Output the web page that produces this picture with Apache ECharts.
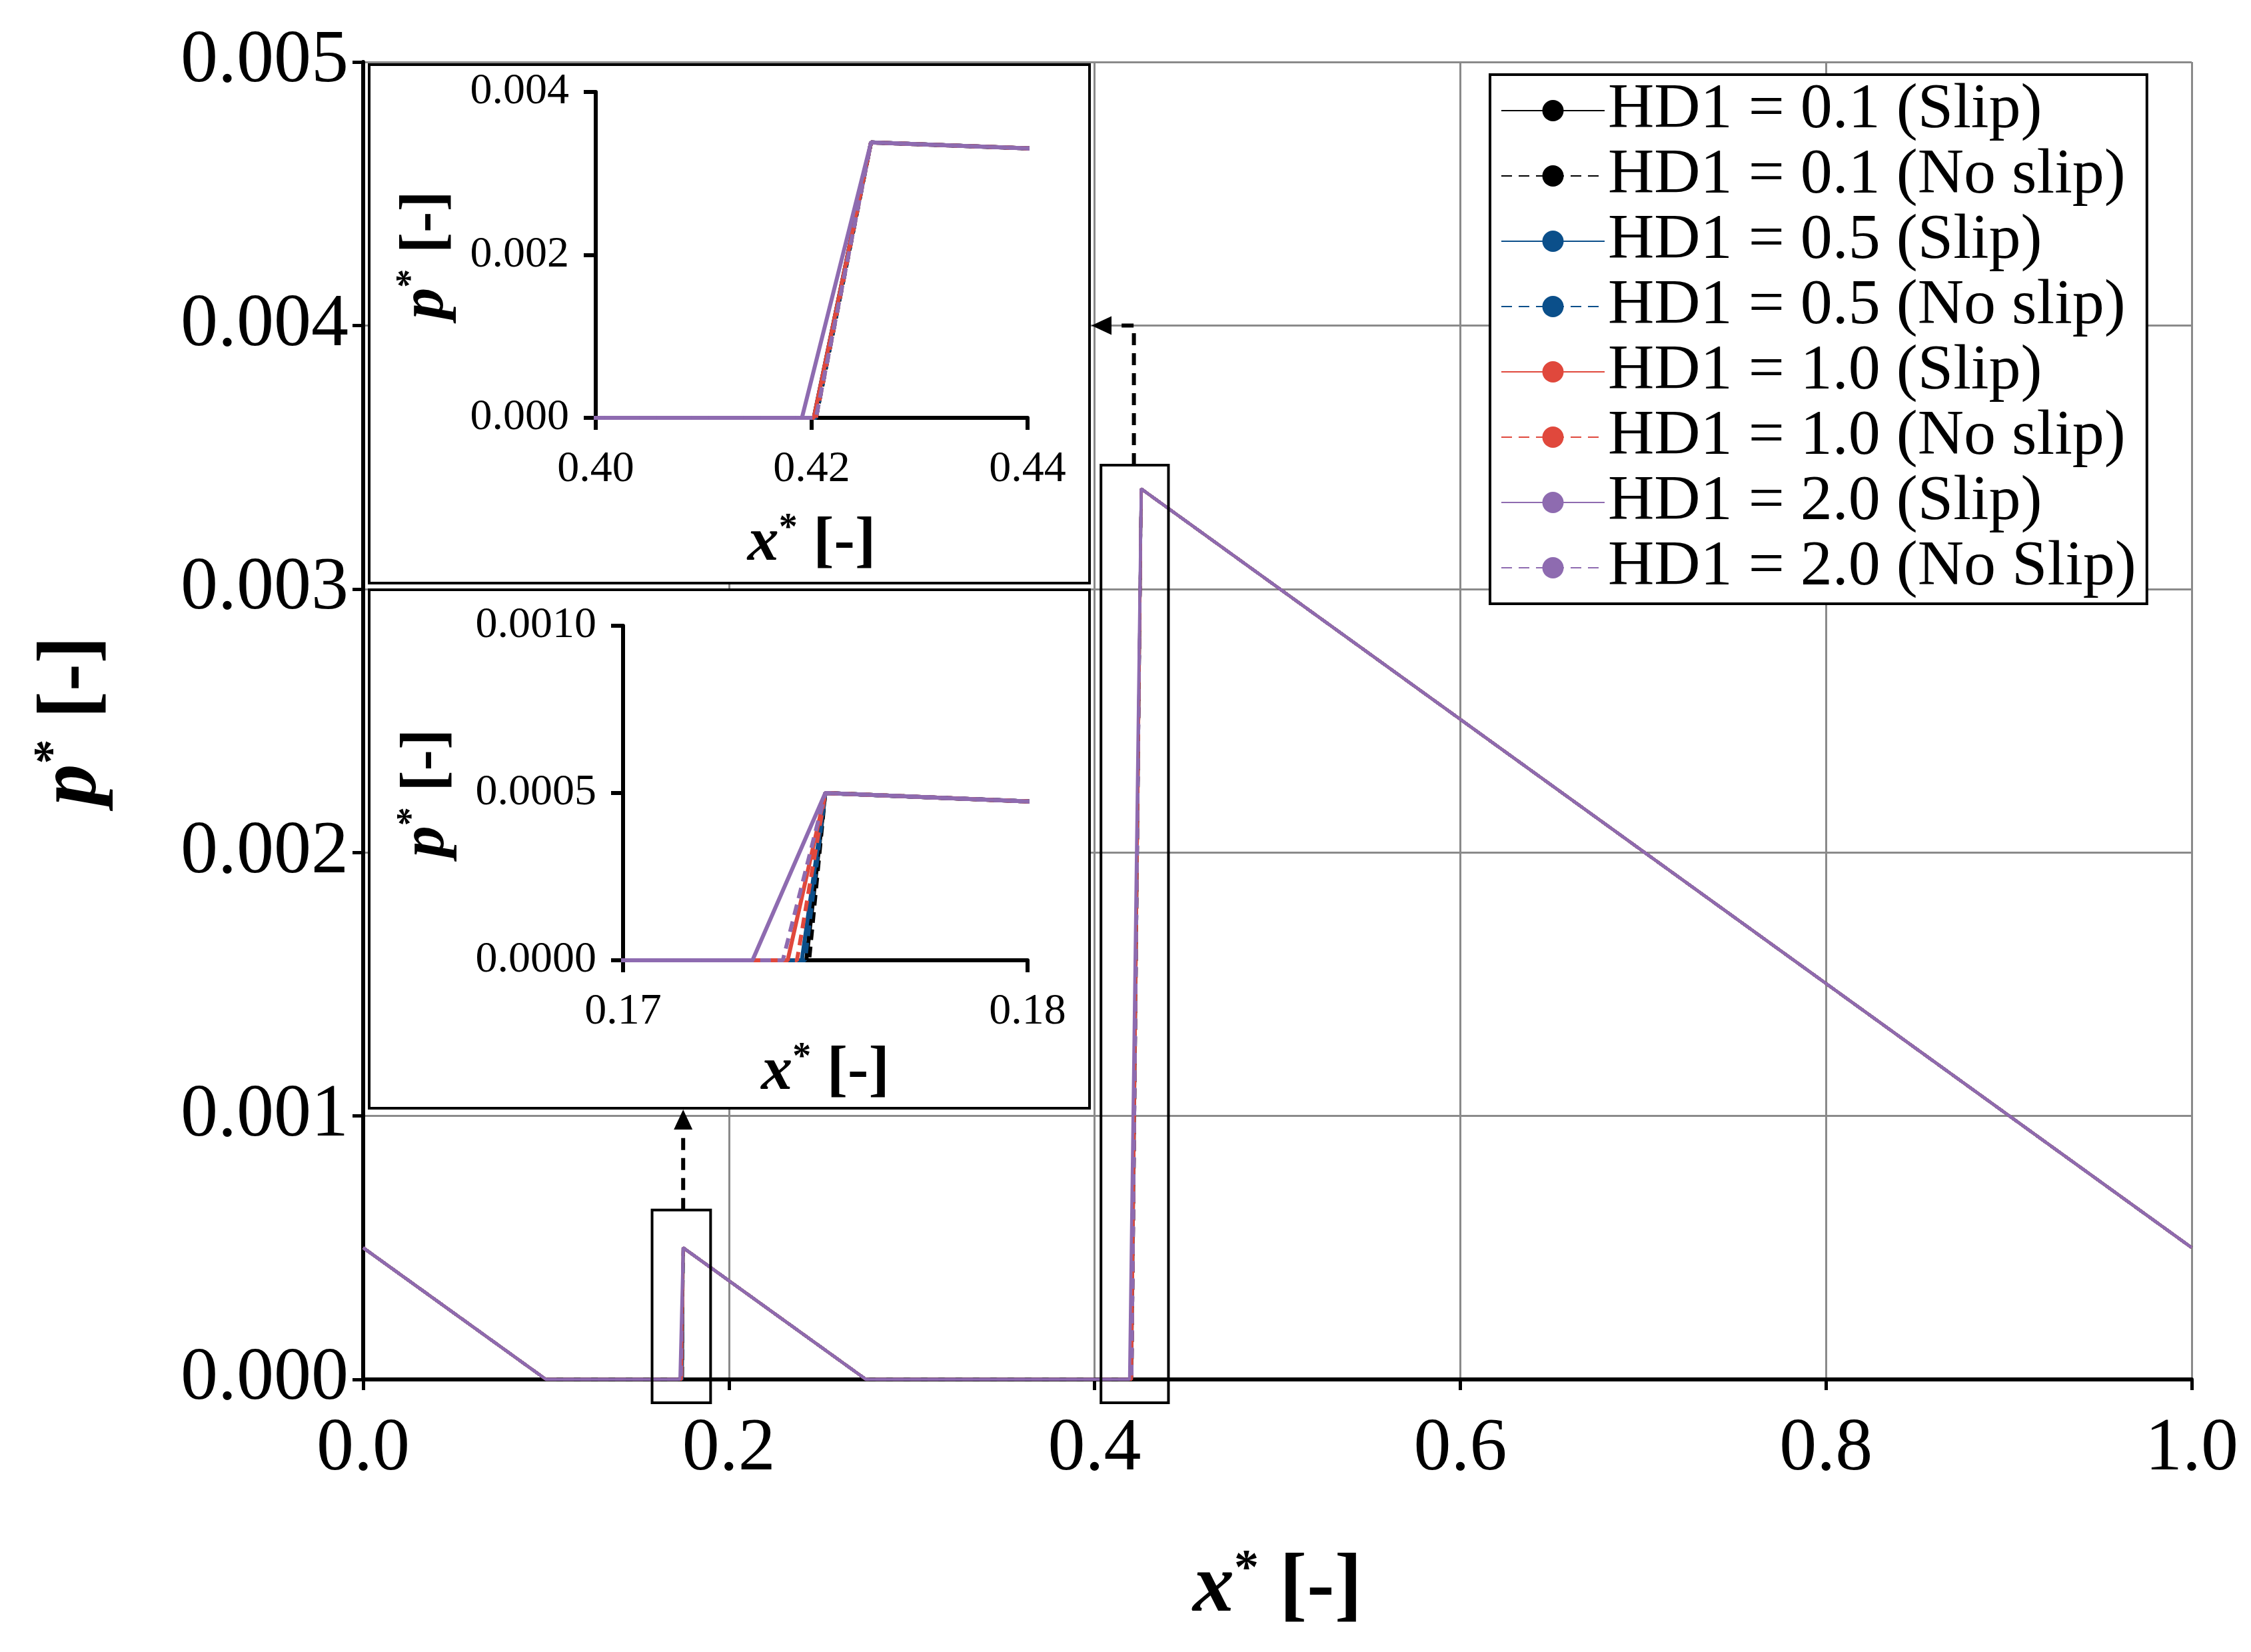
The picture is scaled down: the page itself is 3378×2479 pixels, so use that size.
<!DOCTYPE html>
<html><head><meta charset="utf-8">
<script src="https://cdn.jsdelivr.net/npm/echarts@6/dist/echarts.min.js"></script>
<style>html,body{margin:0;padding:0;background:#fff}#c{width:3378px;height:2479px}</style>
</head><body><div id="c"></div>
<script>
// series metadata
const seriesNames = ['HD1 = 0.1 (Slip)','HD1 = 0.1 (No slip)','HD1 = 0.5 (Slip)','HD1 = 0.5 (No slip)','HD1 = 1.0 (Slip)','HD1 = 1.0 (No slip)','HD1 = 2.0 (Slip)','HD1 = 2.0 (No Slip)'];
const seriesColors = ['#000000','#000000','#0b4f8a','#0b4f8a','#e0483c','#e0483c','#8e6bb0','#8e6bb0'];
const seriesDashed = [false,true,false,true,false,true,false,true];
// onset of the first pressure rise (near x*=0.174) per series
const rise1Start = [0.17453,0.1746,0.17442,0.1745,0.17407,0.1743,0.1732,0.17395];
// onset of the second pressure rise (near x*=0.42) per series
const rise2Start = [0.4202,0.4204,0.4202,0.4204,0.4202,0.4204,0.4191,0.4204];
// shared profile points
const profX = [0, 0.1, 0.175, 0.275, 0.4255, 1.0];
const profP = [0.0005, 0, 0.0005, 0, 0.00338, 0.0005];
// tick labels
const mainXTicks = ['0.0','0.2','0.4','0.6','0.8','1.0'];

function seriesData(i){
  return [[profX[0],profP[0]],[profX[1],profP[1]],[rise1Start[i],0],[profX[2],profP[2]],
          [profX[3],profP[3]],[rise2Start[i],0],[profX[4],profP[4]],[profX[5],profP[5]]];
}
const F = 'Liberation Serif';
const chart = echarts.init(document.getElementById('c'));
function title(sz){
  return {fontFamily:F, fontSize:sz, fontWeight:'bold', color:'#000',
    rich:{i:{fontFamily:F,fontSize:sz,fontStyle:'italic',fontWeight:'bold'},
          s:{fontFamily:F,fontSize:Math.round(sz*0.6),fontWeight:'bold',verticalAlign:'top',padding:[0,0,Math.round(sz*0.45),0]},
          n:{fontFamily:F,fontSize:sz,fontWeight:'bold'}}};
}
const grids = [
  {left:545, top:93, width:2744, height:1977},
  {left:894, top:138, width:648, height:489},
  {left:935, top:939, width:607, height:502}
];
const blackAxis = {show:true, lineStyle:{color:'#000', width:6}};
const xAxes = [
  {gridIndex:0, type:'value', min:0, max:1, interval:0.2, z:0,
   axisLine:blackAxis, axisTick:{show:true,length:16,inside:false,lineStyle:{color:'#000',width:5}},
   splitLine:{show:true,lineStyle:{color:'#8a8a8a',width:3}},
   axisLabel:{fontFamily:F,fontSize:112,color:'#000',margin:50,formatter:(v)=>mainXTicks[Math.round(v/0.2)]},
   name:'{i|x}{s|*}{n| [-]}', nameLocation:'middle', nameGap:250, nameTextStyle:title(124)},
  {gridIndex:1, type:'value', min:0.40, max:0.44, interval:0.02, z:5,
   axisLine:blackAxis, axisTick:{show:true,length:18,lineStyle:{color:'#000',width:6}}, splitLine:{show:false},
   axisLabel:{fontFamily:F,fontSize:66,color:'#000',margin:45,formatter:(v)=>v.toFixed(2)},
   name:'{i|x}{s|*}{n| [-]}', nameLocation:'middle', nameGap:140, nameTextStyle:title(94)},
  {gridIndex:2, type:'value', min:0.17, max:0.18, interval:0.01, z:5,
   axisLine:blackAxis, axisTick:{show:true,length:18,lineStyle:{color:'#000',width:6}}, splitLine:{show:false},
   axisLabel:{fontFamily:F,fontSize:66,color:'#000',margin:45,formatter:(v)=>v.toFixed(2)},
   name:'{i|x}{s|*}{n| [-]}', nameLocation:'middle', nameGap:120, nameTextStyle:title(94)}
];
const yAxes = [
  {gridIndex:0, type:'value', min:0, max:0.005, interval:0.001, z:0,
   axisLine:blackAxis, axisTick:{show:true,length:16,lineStyle:{color:'#000',width:5}},
   splitLine:{show:true,lineStyle:{color:'#8a8a8a',width:3}},
   axisLabel:{fontFamily:F,fontSize:112,color:'#000',margin:22,formatter:(v)=>v.toFixed(3)},
   name:'{i|p}{s|*}{n| [-]}', nameLocation:'middle', nameGap:370, nameTextStyle:title(124)},
  {gridIndex:1, type:'value', min:0, max:0.004, interval:0.002, z:5,
   axisLine:blackAxis, axisTick:{show:true,length:18,lineStyle:{color:'#000',width:6}}, splitLine:{show:false},
   axisLabel:{fontFamily:F,fontSize:66,color:'#000',margin:40,formatter:(v)=>v.toFixed(3)},
   name:'{i|p}{s|*}{n| [-]}', nameLocation:'middle', nameGap:205, nameTextStyle:title(94)},
  {gridIndex:2, type:'value', min:0, max:0.001, interval:0.0005, z:5,
   axisLine:blackAxis, axisTick:{show:true,length:18,lineStyle:{color:'#000',width:6}}, splitLine:{show:false},
   axisLabel:{fontFamily:F,fontSize:66,color:'#000',margin:40,formatter:(v)=>v.toFixed(4)},
   name:'{i|p}{s|*}{n| [-]}', nameLocation:'middle', nameGap:245, nameTextStyle:title(94)}
];
const series = [];
for (let g=0; g<3; g++){
  for (let i=0;i<seriesNames.length;i++){
    series.push({type:'line', name:seriesNames[i], xAxisIndex:g, yAxisIndex:g, data:seriesData(i),
      showSymbol:false, symbol:'none', animation:false, z: g===0?2:6, clip:true,
      lineStyle:{color:seriesColors[i], width: g===0?4.5:6, type: seriesDashed[i]?[16,10]:'solid'},
      itemStyle:{color:seriesColors[i]}});
  }
}
chart.setOption({
  backgroundColor:'#fff', animation:false,
  grid:grids, xAxis:xAxes, yAxis:yAxes, series:series,
  legend:{data:seriesNames, left:2236, top:112, orient:'vertical', itemWidth:155, itemHeight:40, itemGap:2,
    padding:[6,16,6,16], borderColor:'#000', borderWidth:4, backgroundColor:'#fff', z:10,
    selectedMode:false,
    textStyle:{fontFamily:F,fontSize:96,color:'#000',lineHeight:92}}
});
function px(g,x,y){return chart.convertToPixel({gridIndex:g},[x,y]);}
const bx1a = px(0,0.158,0.000643), bx1b = px(0,0.19,0);
const bx2a = px(0,0.4035,0.00347), bx2b = px(0,0.4404,0);
const a1 = px(0,0.175,0.000643);
const a2 = px(0,0.4215,0.00347), a2t = px(0,0.4215,0.004);
const dash = {stroke:'#000', lineWidth:6, lineDash:[18,12], fill:null};
chart.setOption({graphic:[
  {type:'rect', z:1, shape:{x:554,y:97,width:1081,height:778}, style:{fill:'#fff',stroke:'#000',lineWidth:4}},
  {type:'rect', z:1, shape:{x:554,y:885,width:1081,height:778}, style:{fill:'#fff',stroke:'#000',lineWidth:4}},
  {type:'rect', z:3, shape:{x:bx1a[0],y:bx1a[1],width:bx1b[0]-bx1a[0],height:bx1b[1]-bx1a[1]+35}, style:{fill:null,stroke:'#000',lineWidth:4}},
  {type:'rect', z:3, shape:{x:bx2a[0],y:bx2a[1],width:bx2b[0]-bx2a[0],height:bx2b[1]-bx2a[1]+35}, style:{fill:null,stroke:'#000',lineWidth:4}},
  {type:'line', z:3, shape:{x1:a1[0],y1:a1[1],x2:a1[0],y2:1700}, style:dash},
  {type:'polygon', z:3, shape:{points:[[a1[0]-14,1695],[a1[0]+14,1695],[a1[0],1665]]}, style:{fill:'#000'}},
  {type:'polyline', z:3, shape:{points:[[a2[0],a2[1]],[a2t[0],a2t[1]],[1672,a2t[1]]]}, style:dash},
  {type:'polygon', z:3, shape:{points:[[1668,a2t[1]-14],[1668,a2t[1]+14],[1638,a2t[1]]]}, style:{fill:'#000'}}
]});
</script></body></html>
